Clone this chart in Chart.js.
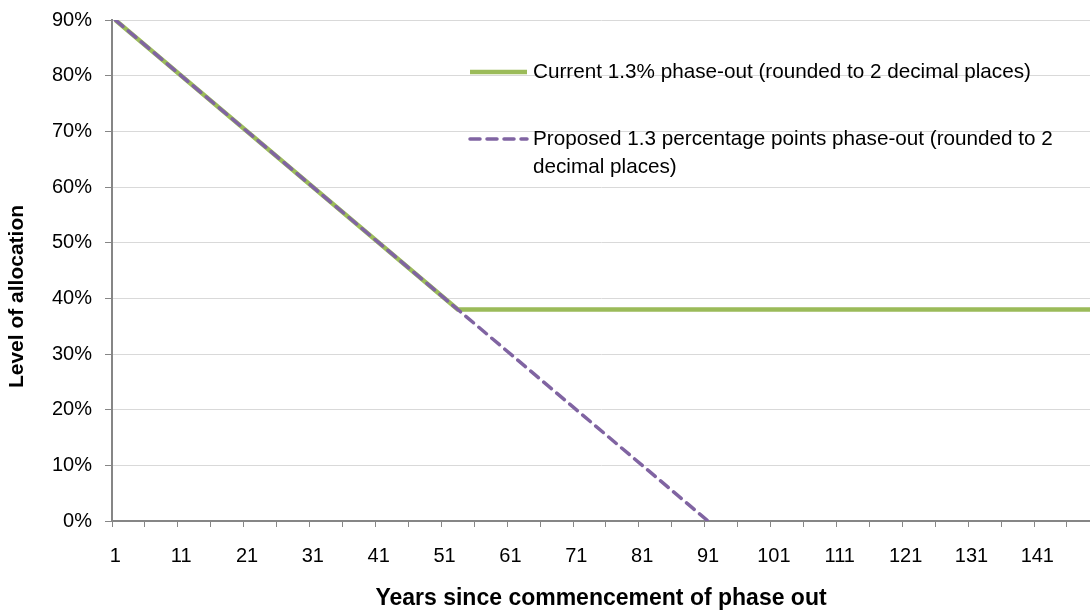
<!DOCTYPE html>
<html>
<head>
<meta charset="utf-8">
<script src="https://cdn.jsdelivr.net/npm/chart.js@4.4.1/dist/chart.umd.min.js"></script>
<style>
  body { margin: 0; background: #fff; }
</style>
</head>
<body>
<canvas id="phaseChart" width="1090" height="610"></canvas>
<script>
// years since commencement / level of allocation (%), break points
const currentYears = [1, 53, 149];
const currentLevel = [90, 38, 38];
const proposedYears = [1, 91];
const proposedLevel = [90, 0];

const yearLabels = [1, 11, 21, 31, 41, 51, 61, 71, 81, 91, 101, 111, 121, 131, 141];
const levelTicks = [0, 10, 20, 30, 40, 50, 60, 70, 80, 90];

const currentName = 'Current 1.3% phase-out (rounded to 2 decimal places)';
const proposedName = 'Proposed 1.3 percentage points phase-out (rounded to 2 decimal places)';
const yTitle = 'Level of allocation';
const xTitle = 'Years since commencement of phase out';

const axisGrey = '#868686';
const font = 'Liberation Sans';

const toPoints = (xs, ys) => xs.map((x, i) => ({ x, y: ys[i] }));

// legend drawn inside the plot, top right, like the original; y title sits a bit low
const insideLegend = {
  id: 'insideLegend',
  afterDraw(chart) {
    const ctx = chart.ctx;
    const area = chart.chartArea;
    const x0 = area.left + 358;
    const textX = x0 + 63;
    const rows = [area.top + 52, area.top + 119];
    const lineH = 28;
    ctx.save();
    ctx.font = '20.7px "' + font + '"';
    ctx.fillStyle = '#000';
    ctx.textBaseline = 'middle';
    chart.data.datasets.forEach((ds, i) => {
      const y = rows[i];
      ctx.beginPath();
      ctx.strokeStyle = ds.borderColor;
      ctx.lineWidth = ds.borderWidth;
      ctx.lineCap = ds.borderCapStyle || 'butt';
      ctx.setLineDash(ds.borderDash || []);
      ctx.moveTo(x0, y);
      ctx.lineTo(textX - 6, y);
      ctx.stroke();
      ctx.setLineDash([]);
      // wrap text to the canvas edge
      const maxW = chart.width - textX - 4;
      const words = ds.label.split(' ');
      let line = '';
      let yy = y;
      words.forEach(w => {
        const test = line ? line + ' ' + w : w;
        if (ctx.measureText(test).width > maxW && line) {
          ctx.fillText(line, textX, yy);
          line = w;
          yy += lineH;
        } else {
          line = test;
        }
      });
      ctx.fillText(line, textX, yy);
    });

    ctx.font = 'bold 21px "' + font + '"';
    ctx.textAlign = 'center';
    ctx.translate(17, (area.top + area.bottom) / 2 + 26);
    ctx.rotate(-Math.PI / 2);
    ctx.fillText(yTitle, 0, 0);
    ctx.restore();
  }
};

const ctx = document.getElementById('phaseChart').getContext('2d');
new Chart(ctx, {
  type: 'line',
  data: {
    datasets: [
      {
        label: currentName,
        data: toPoints(currentYears, currentLevel),
        borderColor: '#9BBB59',
        borderWidth: 4.5,
        pointRadius: 0,
        order: 2,
      },
      {
        label: proposedName,
        data: toPoints(proposedYears, proposedLevel),
        borderColor: '#8064A2',
        borderWidth: 3.5,
        borderDash: [10, 7],
        borderCapStyle: 'round',
        pointRadius: 0,
        order: 1,
      },
    ],
  },
  plugins: [insideLegend],
  options: {
    responsive: false,
    animation: false,
    layout: { padding: { top: 20, right: 0, left: 0, bottom: 0 } },
    plugins: {
      legend: { display: false },
      tooltip: { enabled: false },
    },
    scales: {
      x: {
        type: 'linear',
        min: 0.5,
        max: 149,
        afterBuildTicks: (scale) => {
          const marks = [];
          for (let v = 0.5; v < scale.max; v += 5) marks.push({ value: v });
          yearLabels.forEach(v => marks.push({ value: v }));
          marks.sort((a, b) => a.value - b.value);
          scale.ticks = marks;
        },
        afterFit: (scale) => { scale.height = 89; },
        ticks: {
          autoSkip: false,
          maxRotation: 0,
          padding: 17,
          color: '#000',
          font: { family: font, size: 20 },
          callback: (v) => (yearLabels.includes(v) ? String(v) : ''),
        },
        grid: {
          drawOnChartArea: false,
          tickLength: 6,
          tickColor: (c) => (c.tick && Number.isInteger(c.tick.value) ? 'rgba(0,0,0,0)' : axisGrey),
          tickWidth: 1,
        },
        border: { color: axisGrey, width: 2 },
        title: {
          display: true,
          text: xTitle,
          color: '#000',
          font: { family: font, size: 23, weight: 'bold', lineHeight: 1 },
          padding: { top: 0, bottom: 0 },
        },
      },
      y: {
        min: 0,
        max: 90,
        afterBuildTicks: (scale) => { scale.ticks = levelTicks.map(v => ({ value: v })); },
        afterFit: (scale) => {
          scale.width = 112;
          scale.paddingTop = 0;
          scale.paddingBottom = 0;
        },
        ticks: {
          padding: 13,
          color: '#000',
          font: { family: font, size: 20 },
          callback: (v) => v + '%',
        },
        grid: {
          color: '#d9d9d9',
          lineWidth: 1,
          tickLength: 7,
          tickColor: axisGrey,
        },
        border: { color: axisGrey, width: 2 },
      },
    },
  },
});
</script>
</body>
</html>
